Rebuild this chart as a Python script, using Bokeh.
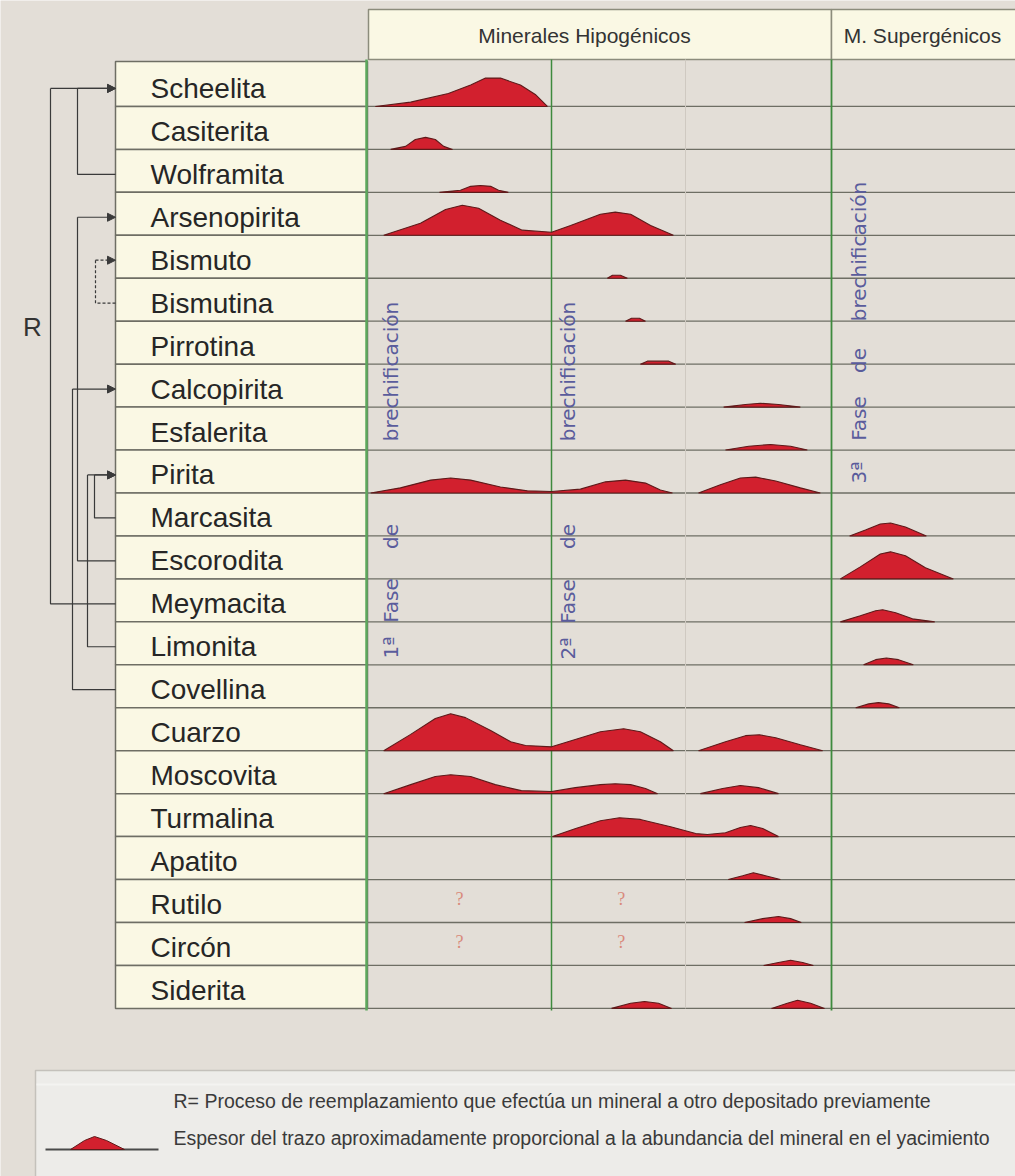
import math
from bokeh.plotting import figure
from bokeh.models import Range1d, ColumnDataSource, Arrow, NormalHead
from bokeh.core.properties import value
from bokeh.embed import file_html
from bokeh.resources import INLINE

# ---------------- data ----------------
minerals = ["Scheelita", "Casiterita", "Wolframita", "Arsenopirita", "Bismuto",
            "Bismutina", "Pirrotina", "Calcopirita", "Esfalerita", "Pirita",
            "Marcasita", "Escorodita", "Meymacita", "Limonita", "Covellina",
            "Cuarzo", "Moscovita", "Turmalina", "Apatito", "Rutilo", "Circón",
            "Siderita"]

header_labels = ["Minerales Hipogénicos", "M. Supergénicos"]
phase_words = [["1ª", "Fase", "de", "brechificación"],
               ["2ª", "Fase", "de", "brechificación"],
               ["3ª", "Fase", "de", "brechificación"]]
legend_texts = ["R= Proceso de reemplazamiento que efectúa un mineral  a otro depositado previamente",
                "Espesor del trazo aproximadamente proporcional a la abundancia del mineral en el yacimiento"]

# relative time (0 = start of hypogene stage, 100 = start of supergene stage)
# and relative abundance (fraction of a row height) for each hump
scheelita_t = [1.9, 9.5, 17.6, 22.4, 25.6, 28.8, 33.1, 36.3, 38.9]
scheelita_h = [0, .10, .30, .50, .66, .66, .50, .28, 0]
casiterita_t = [5.2, 8.4, 10.5, 12.7, 14.8, 16.6, 18.5]
casiterita_h = [0, .07, .23, .28, .23, .07, 0]
wolframita_t = [15.7, 20.2, 22.4, 24.5, 26.7, 28.4, 30.5]
wolframita_h = [0, .05, .14, .16, .14, .05, 0]
arsenopirita_t = [3.7, 11.6, 17.0, 20.6, 24.1, 28.8, 33.5, 39.8, 43.9, 50.3, 53.5, 56.8, 61.1, 66.0]
arsenopirita_h = [0, .28, .60, .70, .63, .35, .12, .07, .23, .49, .54, .49, .23, 0]
bismuto_t = [51.8, 52.9, 54.6, 56.1]
bismuto_h = [0, .07, .07, 0]
bismutina_t = [55.7, 57.0, 58.7, 60.0]
bismutina_h = [0, .07, .07, 0]
pirrotina_t = [58.9, 60.4, 65.0, 66.5]
pirrotina_h = [0, .07, .07, 0]
calcopirita_t = [76.8, 81.5, 84.7, 88.6, 93.3]
calcopirita_h = [0, .06, .09, .06, 0]
esfalerita_t = [77.2, 82.2, 86.9, 91.2, 94.8]
esfalerita_h = [0, .09, .13, .09, 0]
pirita_t1 = [0.9, 7.3, 13.8, 18.1, 22.4, 28.8, 34.6, 39.8, 46.0, 51.4, 55.7, 60.0, 63.2, 65.8]
pirita_h1 = [0, .12, .30, .35, .30, .14, .05, .035, .09, .26, .30, .23, .07, 0]
pirita_t2 = [71.4, 76.1, 80.4, 83.7, 88.0, 93.3, 97.6]
pirita_h2 = [0, .19, .35, .37, .28, .12, 0]
marcasita_t = [103.9, 107.3, 110.5, 112.7, 115.9, 120.4]
marcasita_h = [0, .14, .28, .30, .21, 0]
escorodita_t = [101.9, 106.2, 110.5, 112.7, 115.9, 120.2, 126.2]
escorodita_h = [0, .28, .58, .63, .54, .26, 0]
meymacita_t = [101.9, 106.2, 109.5, 111.0, 113.8, 117.4, 122.2]
meymacita_h = [0, .14, .26, .28, .21, .07, 0]
limonita_t = [106.9, 109.5, 111.8, 114.4, 117.6]
limonita_h = [0, .12, .16, .12, 0]
covellina_t = [105.2, 108.0, 110.1, 112.3, 114.6]
covellina_h = [0, .09, .12, .09, 0]
cuarzo_t1 = [3.7, 9.5, 14.8, 18.1, 21.3, 26.7, 31.0, 34.2, 39.8, 42.8, 50.3, 55.3, 58.9, 63.2, 66.0]
cuarzo_h1 = [0, .38, .75, .86, .77, .47, .21, .12, .09, .19, .44, .51, .44, .21, 0]
cuarzo_t2 = [71.4, 77.2, 81.5, 84.5, 88.0, 93.3, 98.1]
cuarzo_h2 = [0, .21, .35, .37, .30, .14, 0]
moscovita_t1 = [3.7, 9.5, 14.8, 18.1, 22.4, 27.7, 33.3, 39.8, 44.9, 50.3, 53.5, 56.8, 60.0, 62.6]
moscovita_h1 = [0, .21, .40, .44, .40, .21, .07, .05, .14, .21, .23, .21, .12, 0]
moscovita_t2 = [71.8, 76.6, 80.4, 84.3, 88.6]
moscovita_h2 = [0, .12, .19, .14, 0]
turmalina_t = [40.0, 45.0, 50.3, 54.4, 58.9, 65.4, 70.8, 73.3, 77.2, 80.4, 82.6, 85.2, 88.6]
turmalina_h = [0, .19, .37, .44, .40, .23, .07, .05, .09, .21, .26, .19, 0]
apatito_t = [77.8, 80.9, 83.2, 85.8, 89.0]
apatito_h = [0, .09, .16, .09, 0]
rutilo_t = [81.3, 85.2, 88.6, 91.2, 93.5]
rutilo_h = [0, .09, .14, .09, 0]
circon_t = [85.4, 88.6, 91.2, 93.8, 96.1]
circon_h = [0, .07, .12, .07, 0]
siderita_t1 = [52.7, 56.8, 59.8, 62.8, 65.6]
siderita_h1 = [0, .12, .16, .12, 0]
siderita_t2 = [87.1, 90.5, 92.7, 95.5, 98.5]
siderita_h2 = [0, .12, .19, .12, 0]

hump_rows = ["Scheelita", "Casiterita", "Wolframita", "Arsenopirita", "Bismuto", "Bismutina",
             "Pirrotina", "Calcopirita", "Esfalerita", "Pirita", "Pirita", "Marcasita",
             "Escorodita", "Meymacita", "Limonita", "Covellina", "Cuarzo", "Cuarzo",
             "Moscovita", "Moscovita", "Turmalina", "Apatito", "Rutilo", "Circón",
             "Siderita", "Siderita"]
hump_t = [scheelita_t, casiterita_t, wolframita_t, arsenopirita_t, bismuto_t, bismutina_t,
          pirrotina_t, calcopirita_t, esfalerita_t, pirita_t1, pirita_t2, marcasita_t,
          escorodita_t, meymacita_t, limonita_t, covellina_t, cuarzo_t1, cuarzo_t2,
          moscovita_t1, moscovita_t2, turmalina_t, apatito_t, rutilo_t, circon_t,
          siderita_t1, siderita_t2]
hump_h = [scheelita_h, casiterita_h, wolframita_h, arsenopirita_h, bismuto_h, bismutina_h,
          pirrotina_h, calcopirita_h, esfalerita_h, pirita_h1, pirita_h2, marcasita_h,
          escorodita_h, meymacita_h, limonita_h, covellina_h, cuarzo_h1, cuarzo_h2,
          moscovita_h1, moscovita_h2, turmalina_h, apatito_h, rutilo_h, circon_h,
          siderita_h1, siderita_h2]

# uncertain occurrences ("?")
question_rows = ["Rutilo", "Rutilo", "Circón", "Circón"]
question_t = [20.0, 54.8, 20.0, 54.8]

# replacement relations (R): replacing mineral -> replaced mineral
r_from = ["Wolframita", "Meymacita", "Escorodita", "Bismutina", "Covellina", "Marcasita", "Limonita"]
r_to = ["Scheelita", "Scheelita", "Arsenopirita", "Bismuto", "Calcopirita", "Pirita", "Pirita"]
r_dashed = [False, False, False, True, False, False, False]

# ---------------- layout ----------------
W, H = 1015, 1176
PX_X0, PX_PER_T = 366.0, 4.65
PX_Y0, ROW_PX = 63.0, 42.95


def X(px):
    return (px - PX_X0) / PX_PER_T


def Y(px):
    return (px - PX_Y0) / ROW_PX


BG = "#E3DED7"
CREAM = "#FAF8E4"
GRID = "#6E6E64"
GREEN = "#3E8A3E"
RED = "#D2202E"
RED_LINE = "#5E1A1A"
TXT = "#262626"
BLUE = "#5A5C9C"
BR = "#3A3A3A"

p = figure(width=W, height=H, x_range=Range1d(X(0), X(W)), y_range=Range1d(Y(H), Y(0)),
           output_backend="svg", toolbar_location=None, x_axis_location=None,
           y_axis_location=None, min_border=0, background_fill_color=BG,
           border_fill_color=BG, outline_line_color=None)
p.min_border_left = p.min_border_right = p.min_border_top = p.min_border_bottom = 0
p.xgrid.visible = False
p.ygrid.visible = False
for g in p.grid:
    g.visible = False

row_index = {m: i for i, m in enumerate(minerals)}
n = len(minerals)

# header
p.quad(left=[X(368), X(831)], right=[X(831), X(1030)], top=[Y(9), Y(9)], bottom=[Y(59), Y(59)],
       fill_color=CREAM, line_color="#8C8C7C", line_width=1.5)
p.text(x=[X(584), X(922)], y=[Y(35), Y(35)], text=header_labels,
       text_font=value("Liberation Sans"), text_font_size="21px", text_color="#333333",
       text_align="center", text_baseline="middle")

# label column
tops = [i for i in range(n)]
tops[0] = Y(61)
p.quad(left=X(115), right=X(367), top=tops, bottom=[i + 1 for i in range(n)],
       fill_color=CREAM, line_color=GRID, line_width=1.5)
p.text(x=X(150), y=[i + 0.58 for i in range(n)], text=minerals,
       text_font=value("Liberation Sans"), text_font_size="28px", text_color=TXT,
       text_align="left", text_baseline="middle")

# row separators in the chart area
p.segment(x0=X(367), x1=X(1030), y0=[i + 1 for i in range(n)], y1=[i + 1 for i in range(n)],
          line_color=GRID, line_width=1.3)

# phase dividers
p.segment(x0=[X(685)], x1=[X(685)], y0=[Y(59)], y1=[n], line_color="#CFC9C1", line_width=1)
p.segment(x0=[X(366), X(551), X(831)], x1=[X(366), X(551), X(831)],
          y0=[Y(59)] * 3, y1=[n + 0.05] * 3, line_color=["#5DA85D", GREEN, GREEN],
          line_width=[2.5, 1.5, 1.8])

# humps
xs = [list(t) for t in hump_t]
ys = [[row_index[m] + 1 - v for v in h] for m, h in zip(hump_rows, hump_h)]
p.patches(xs=xs, ys=ys, fill_color=RED, line_color=RED_LINE, line_width=1.1)

# question marks
p.text(x=question_t, y=[row_index[m] + 0.45 for m in question_rows], text=["?"] * 4,
       text_font=value("Liberation Serif"), text_font_size="18px", text_color="#D98A7C",
       text_align="center", text_baseline="middle")

# vertical phase labels (one word at a time, reading upwards)
col_x = [X(390), X(567), X(858)]
word_centers = [[647, 600, 536, 371], [648, 601, 536, 371], [472, 418, 360, 251]]
vx, vy, vt = [], [], []
for cx, words, cen in zip(col_x, phase_words, word_centers):
    for w, c in zip(words, cen):
        vx.append(cx)
        vy.append(Y(c))
        vt.append(w)
p.text(x=vx, y=vy, text=vt, angle=math.pi / 2, text_font=value("DejaVu Sans"),
       text_font_size="20px", text_color=BLUE, text_align="center", text_baseline="middle")

# replacement brackets
bracket_x = {("Wolframita", "Scheelita"): 77, ("Meymacita", "Scheelita"): 50,
             ("Escorodita", "Arsenopirita"): 77, ("Bismutina", "Bismuto"): 95,
             ("Covellina", "Calcopirita"): 72, ("Marcasita", "Pirita"): 94,
             ("Limonita", "Pirita"): 87}
OFF = 0.58
for f, t, d in zip(r_from, r_to, r_dashed):
    bx = X(bracket_x[(f, t)])
    yf = row_index[f] + OFF
    yt = row_index[t] + OFF
    dash = "3 2" if d else "solid"
    p.line(x=[X(115), bx, bx], y=[yf, yf, yt], line_color=BR, line_width=1.2, line_dash=dash)
    src = ColumnDataSource(dict(x0=[bx], x1=[X(115)], y0=[yt], y1=[yt]))
    p.add_layout(Arrow(end=NormalHead(size=8, fill_color=BR, line_color=BR), x_start="x0",
                       y_start="y0", x_end="x1", y_end="y1", source=src, line_color=BR,
                       line_width=1.2, line_dash=dash))
p.text(x=[X(32)], y=[Y(326)], text=["R"], text_font=value("Liberation Sans"),
       text_font_size="26px", text_color="#333333", text_align="center", text_baseline="middle")

# legend box
p.quad(left=[X(35)], right=[X(1030)], top=[Y(1070)], bottom=[Y(1190)], fill_color="#EDECE9",
       line_color="#C4C1BB", line_width=1.5)
p.segment(x0=[X(36)], x1=[X(1030)], y0=[Y(1084)], y1=[Y(1084)], line_color="#F4F3F1", line_width=2)
p.segment(x0=[X(45)], x1=[X(158)], y0=[Y(1149)], y1=[Y(1149)], line_color="#4A4A4A", line_width=2)
p.patch(x=[X(70), X(84), X(94), X(106), X(124)], y=[Y(1149), Y(1140), Y(1136), Y(1140), Y(1149)],
        fill_color=RED, line_color=RED_LINE, line_width=1)
p.text(x=[X(173), X(173)], y=[Y(1100), Y(1137)], text=legend_texts,
       text_font=value("Liberation Sans"), text_font_size="19.5px", text_color="#3A3A3A",
       text_align="left", text_baseline="middle")

open("out.html", "w").write(file_html(p, INLINE))
